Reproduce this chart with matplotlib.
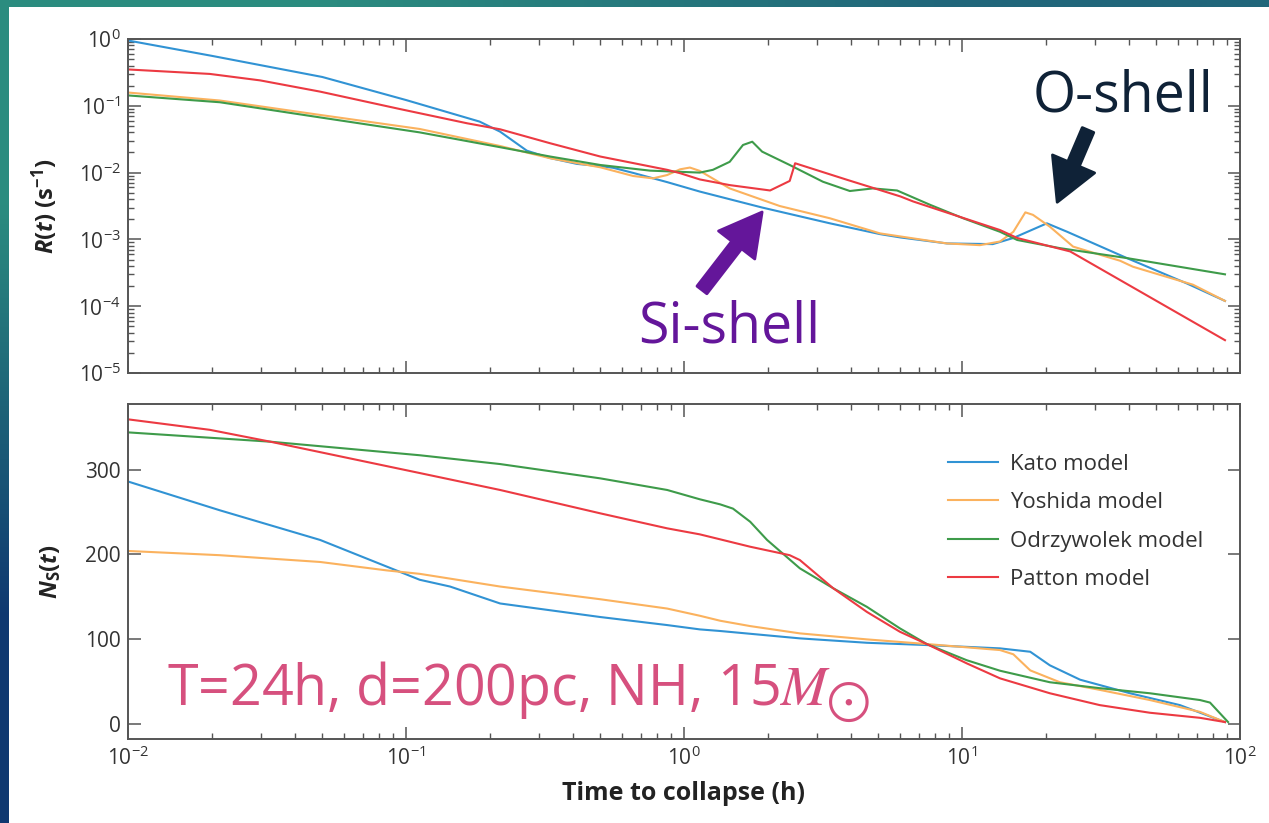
import numpy as np
import matplotlib
matplotlib.use('Agg')
import matplotlib.pyplot as plt
from matplotlib.patches import Rectangle

plt.rcParams['font.family'] = ['Open Sans', 'DejaVu Sans']
plt.rcParams['mathtext.fontset'] = 'custom'
plt.rcParams['mathtext.rm'] = 'Open Sans'
plt.rcParams['mathtext.it'] = 'Open Sans:italic'
plt.rcParams['mathtext.bf'] = 'Open Sans:bold'
plt.rcParams['mathtext.bfit'] = 'Open Sans:bold:italic'

# ─── DATA ─────────────────────────────────────────────────────────────────
# top panel: event rate R(t) in s^-1 vs time to collapse (h)
kato_t_R = [0.01, 0.02, 0.05, 0.1, 0.184, 0.218, 0.272, 0.33, 0.412, 0.5, 0.556, 0.656,
            0.87, 1.14, 1.91, 3.35, 5.07, 6.0, 8.83, 12.9, 15.3, 20.2, 23.9, 39.2, 64.4, 88.3]
kato_R = [0.95, 0.56, 0.27, 0.122, 0.058, 0.041, 0.0213, 0.0165, 0.0135, 0.0125, 0.0118, 0.0099,
          0.0072, 0.0052, 0.0030, 0.00174, 0.0012, 0.00107, 0.00087, 0.00085, 0.00105, 0.00174,
          0.0013, 0.000525, 0.000219, 0.00012]

yosh_t_R = [0.01, 0.0214, 0.0491, 0.112, 0.218, 0.33, 0.5, 0.656, 0.773, 0.87, 0.968, 1.05,
            1.14, 1.46, 2.21, 3.35, 5.07, 8.83, 11.6, 13.7, 15.3, 16.9, 18.0, 20.7, 25.1, 31.3,
            37.0, 41.2, 51.5, 67.7, 88.3]
yosh_R = [0.158, 0.12, 0.073, 0.045, 0.025, 0.0164, 0.012, 0.0089, 0.0082, 0.0092, 0.0112, 0.0119,
          0.0106, 0.0058, 0.00316, 0.00207, 0.00123, 0.00087, 0.00082, 0.00093, 0.0013, 0.00254,
          0.00233, 0.00155, 0.00078, 0.00059, 0.00048, 0.00039, 0.000295, 0.00021, 0.00012]

odrz_t_R = [0.01, 0.0214, 0.0491, 0.112, 0.218, 0.33, 0.5, 0.755, 1.14, 1.27, 1.46, 1.63, 1.76,
            1.91, 2.40, 3.16, 3.95, 4.78, 5.84, 7.67, 10.1, 13.7, 15.8, 22.5, 39.2, 88.3]
odrz_R = [0.143, 0.113, 0.067, 0.040, 0.024, 0.0174, 0.013, 0.0107, 0.0100, 0.011, 0.0145, 0.0259,
          0.029, 0.0206, 0.013, 0.0073, 0.0053, 0.0058, 0.0054, 0.0033, 0.00207, 0.0013, 0.00098,
          0.00074, 0.000525, 0.0003]

patt_t_R = [0.01, 0.0197, 0.0299, 0.0491, 0.095, 0.166, 0.218, 0.33, 0.5, 0.87, 0.968, 1.14,
            1.46, 2.04, 2.40, 2.51, 3.86, 6.0, 6.67, 13.7, 15.8, 24.5, 88.3]
patt_R = [0.35, 0.30, 0.24, 0.163, 0.0895, 0.0547, 0.0445, 0.0275, 0.0174, 0.011, 0.0098, 0.0079,
          0.0065, 0.0054, 0.0075, 0.0138, 0.0078, 0.0044, 0.0037, 0.00138, 0.00105, 0.00066, 3.1e-5]

# bottom panel: expected number of signal events N_S(t)
kato_t_N = [0.01, 0.0214, 0.0491, 0.112, 0.144, 0.218, 0.33, 0.5, 0.87, 1.14, 1.35, 2.61, 4.55,
            7.48, 13.7, 17.6, 20.7, 26.6, 40.2, 60.8, 88.3]
kato_N = [286, 252, 217, 170, 162, 142, 134, 126, 116.5, 111.4, 109.5, 100.8, 95.6, 92.9, 89, 85,
          69, 52, 36, 22, 2]

yosh_t_N = [0.01, 0.0214, 0.0491, 0.0855, 0.112, 0.218, 0.5, 0.87, 1.14, 1.35, 1.73, 2.61, 4.55,
            7.48, 13.7, 15.3, 17.6, 22.5, 31.3, 47.4, 71.8, 88.3]
yosh_N = [204, 199, 191, 181, 177, 162, 147, 136, 127.5, 121.6, 115.3, 106.7, 99.6, 94.1, 87, 82,
          63, 49, 40, 28, 14, 2]

odrz_t_N = [0.01, 0.0325, 0.112, 0.218, 0.5, 0.87, 1.14, 1.35, 1.50, 1.73, 1.99, 2.61, 3.44, 4.55,
            5.98, 7.48, 10.4, 13.7, 20.7, 31.3, 47.4, 71.8, 78.0, 90.6]
odrz_N = [344, 333, 317, 306.6, 289.7, 276, 265, 259, 254, 238.5, 217, 183.5, 160, 138, 112.6, 94,
          75, 62.6, 49, 42, 36, 28, 25, 2]

patt_t_N = [0.01, 0.0197, 0.0325, 0.112, 0.218, 0.5, 0.87, 1.14, 1.35, 1.73, 2.40, 2.61, 3.44,
            4.55, 5.98, 7.48, 10.4, 13.7, 20.7, 31.3, 47.4, 71.8, 88.3]
patt_N = [359.4, 347, 333, 296, 276, 248.4, 230.7, 223.6, 217.7, 209, 199, 193.3, 160, 132, 108.6,
          94, 71.3, 53.6, 36, 22, 13, 7, 2]

LABELS = ['Kato model', 'Yoshida model', 'Odrzywolek model', 'Patton model']
COLORS = ['#3193d4', '#fbb25e', '#3e9b4a', '#ec3a42']

AX_COL = '#555555'
TXT_COL = '#333333'

# ─── FIGURE + SLIDE BACKGROUND ────────────────────────────────────────────
W, H = 1269, 823
fig = plt.figure(figsize=(W / 100, H / 100), dpi=100)

bg = fig.add_axes([0, 0, 1, 1], zorder=-10)
grad = np.array([[[0.17, 0.55, 0.50], [0.13, 0.40, 0.48]],
                 [[0.06, 0.22, 0.44], [0.06, 0.22, 0.44]]])
bg.imshow(grad, extent=[0, W, H, 0], interpolation='bilinear', aspect='auto')
bg.add_patch(Rectangle((9, 7), W, H, facecolor='white', edgecolor='none'))
bg.set_xlim(0, W)
bg.set_ylim(H, 0)
bg.axis('off')

ax1 = fig.add_axes([128 / W, 1 - 373 / H, 1112 / W, 334 / H])
ax2 = fig.add_axes([128 / W, 1 - 739 / H, 1112 / W, 335 / H])

top_series = [(kato_t_R, kato_R), (yosh_t_R, yosh_R), (odrz_t_R, odrz_R), (patt_t_R, patt_R)]
bot_series = [(kato_t_N, kato_N), (yosh_t_N, yosh_N), (odrz_t_N, odrz_N), (patt_t_N, patt_N)]

for (t, r), col in zip(top_series, COLORS):
    ax1.plot(t, r, color=col, lw=1.5, solid_joinstyle='round')
for (t, n), col, lab in zip(bot_series, COLORS, LABELS):
    ax2.plot(t, n, color=col, lw=1.5, label=lab, solid_joinstyle='round')

for ax in (ax1, ax2):
    ax.set_xscale('log')
    ax.set_xlim(1e-2, 1e2)
    ax.tick_params(which='both', direction='in', top=True, right=True,
                   colors=AX_COL, labelcolor=TXT_COL, labelsize=15)
    ax.tick_params(which='major', length=9, width=1.1, pad=5)
    ax.tick_params(which='minor', length=4.5, width=1.0)
    for sp in ax.spines.values():
        sp.set_edgecolor(AX_COL)
        sp.set_linewidth(1.4)

ax1.set_yscale('log')
ax1.set_ylim(1e-5, 1e0)
ax1.tick_params(labelbottom=False)
ax1.set_ylabel(r'$\mathbfit{R}\mathbf{(}\mathbfit{t}\mathbf{)\ (s^{-1})}$', fontsize=17, color='#222222')
ax1.yaxis.set_label_coords(-0.061, 0.5)

ax2.set_ylim(-18, 377.5)
ax2.set_yticks([0, 100, 200, 300])
ax2.set_ylabel(r'$\mathbfit{N}_{\mathbf{S}}\mathbf{(}\mathbfit{t}\mathbf{)}$', fontsize=17, color='#222222')
ax2.yaxis.set_label_coords(-0.058, 0.5)
ax2.set_xlabel('Time to collapse (h)', fontsize=18, fontweight='bold', color='#222222')
ax2.xaxis.set_label_coords(0.5, -0.125)

ax2.legend(loc='upper left', bbox_to_anchor=(0.737, 0.852), frameon=False, fontsize=16,
           handlelength=2.25, handletextpad=0.55, labelspacing=0.79, borderpad=0,
           borderaxespad=0, labelcolor=TXT_COL)

# ─── ANNOTATIONS ──────────────────────────────────────────────────────────
NAVY = '#0f2237'
PURPLE = '#64169a'
PINK = '#d6507e'

ARROW = 'simple,head_length=1.0,head_width=1.1,tail_width=0.3'

ax1.text(18.0, 0.081, 'O-shell', color=NAVY, fontsize=40, va='baseline', ha='left')
ax1.annotate('', xy=(22.0, 0.0036), xytext=(28.4, 0.0434),
             arrowprops=dict(arrowstyle=ARROW, mutation_scale=30, color=NAVY,
                             joinstyle='round', capstyle='round', lw=2, shrinkA=0, shrinkB=0))

ax1.text(0.684, 2.9e-5, 'Si-shell', color=PURPLE, fontsize=40, va='baseline', ha='left')
ax1.annotate('', xy=(1.91, 0.00257), xytext=(1.16, 1.75e-4),
             arrowprops=dict(arrowstyle=ARROW, mutation_scale=30, color=PURPLE,
                             joinstyle='round', capstyle='round', lw=2, shrinkA=0, shrinkB=0))

ax2.text(0.0138, 22, r'T=24h, d=200pc, NH, 15$M_{\bigodot}$', color=PINK, fontsize=40,
         va='baseline', ha='left', math_fontfamily='stix')

fig.savefig('out.png', dpi=100)
